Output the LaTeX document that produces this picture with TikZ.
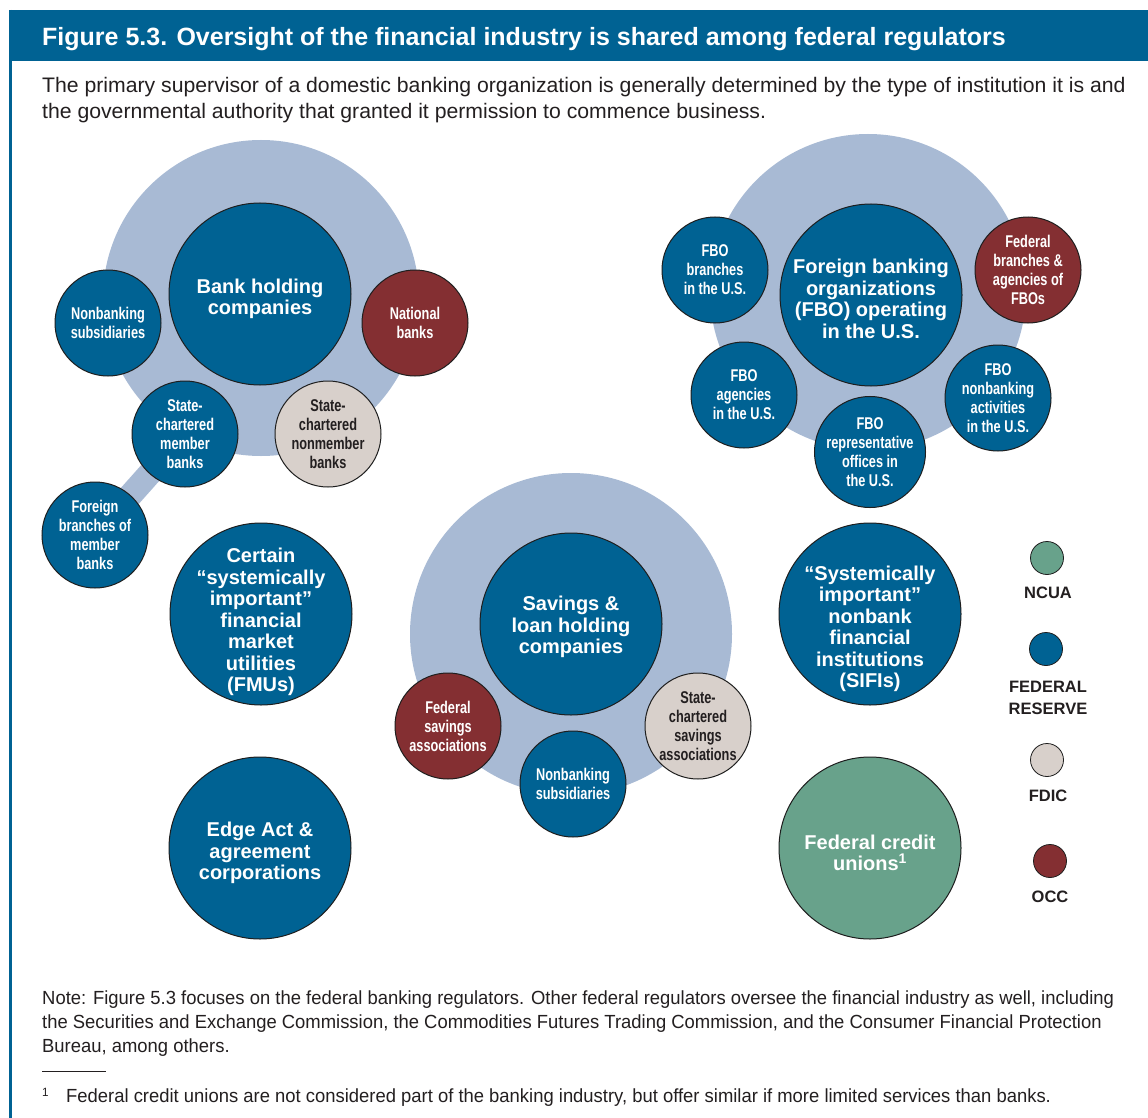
\documentclass[tikz,border=0pt]{standalone}
\usepackage{fontspec}
\setmainfont{Liberation Sans}
\newfontfamily\condf{Liberation Sans}[FakeStretch=0.75]
\newfontfamily\bodyf{Liberation Sans}[FakeStretch=1.01]
\newfontfamily\notef{Liberation Sans}[FakeStretch=0.97]
\newfontfamily\titlef{Liberation Sans}[FakeStretch=1.0]
\definecolor{fedblue}{RGB}{0,98,147}
\definecolor{halocol}{RGB}{168,186,212}
\definecolor{occred}{RGB}{132,47,50}
\definecolor{fdiccol}{RGB}{216,208,203}
\definecolor{ncuacol}{RGB}{104,162,139}
\definecolor{txtgray}{RGB}{35,31,32}
\definecolor{outl}{RGB}{30,30,30}
\tikzset{
  halo/.style={circle, fill=halocol, inner sep=0pt},
  bigc/.style={circle, draw=outl, line width=1pt, fill=fedblue, minimum size=182pt, inner sep=0pt},
  bigt/.style={inner sep=0pt, text=white, align=center, font=\bfseries\fontsize{20}{21.5}\selectfont},
  smallc/.style={circle, draw=outl, line width=1pt, fill=fedblue, minimum size=106pt, inner sep=0pt,
    text=white, align=center, font=\condf\bfseries\fontsize{17}{19}\selectfont},
  legc/.style={circle, draw=outl, line width=0.8pt, minimum size=33pt, inner sep=0pt},
  legt/.style={text=txtgray, align=center, inner sep=0pt, font=\bfseries\fontsize{16.5}{22}\selectfont},
  bodyt/.style={anchor=base west, inner sep=0pt, text=txtgray, font=\bodyf\fontsize{21}{26}\selectfont},
  notet/.style={anchor=base west, inner sep=0pt, text=txtgray, font=\notef\fontsize{19}{24}\selectfont},
}
\begin{document}
\begin{tikzpicture}[x=1pt,y=-1pt]
\useasboundingbox (0,0) rectangle (1148,1118);
\fill[white] (0,0) rectangle (1148,1118);
% title bar and frame
\fill[fedblue] (9,10) rectangle (1148,61);
\draw[fedblue, line width=2.5pt] (10.5,10) -- (10.5,1118);
\node[anchor=base west, inner sep=0pt, text=white, font=\titlef\bfseries\fontsize{25}{30}\selectfont] (title) at (42,46)
  {Figure 5.3. Oversight of the financial industry is shared among federal regulators};
\node[bodyt] (sub1) at (42,93) {The primary supervisor of a domestic banking organization is generally determined by the type of institution it is and};
\node[bodyt] (sub2) at (42,119) {the governmental authority that granted it permission to commence business.};

% halos
\node[halo, minimum size=316pt] (bhcHalo) at (261,298) {};
\node[halo, minimum size=316pt] (fboHalo) at (868,292) {};
\node[halo, minimum size=322pt] (slHalo) at (571,634) {};
\coordinate (smbC) at (185,434);
\coordinate (fbmC) at (95,535);
\draw[halocol, line width=24pt] (smbC) -- (fbmC);

% bank holding group
\node[bigc] (bhc) at (260,294) {};
\node[bigt] (bhcT) at ([yshift=-5pt]bhc.center) {Bank holding\\companies};
\node[smallc] (nbs1) at (108,323) {Nonbanking\\subsidiaries};
\node[smallc, fill=occred] (natb) at (415,323) {National\\banks};
\node[smallc] (smb) at (smbC) {State-\\chartered\\member\\banks};
\node[smallc, fill=fdiccol, text=txtgray] (snmb) at (328,434) {State-\\chartered\\nonmember\\banks};
\node[smallc] (fbm) at (fbmC) {Foreign\\branches of\\member\\banks};

% FBO group
\node[bigc] (fbo) at (871,295) {};
\node[bigt] (fboT) at ([yshift=-4pt]fbo.center) {Foreign banking\\organizations\\(FBO) operating\\in the U.S.};
\node[smallc] (fbob) at (715,270) {FBO\\branches\\in the U.S.};
\node[smallc, fill=occred] (fedba) at (1028,270) {Federal\\branches \&\\agencies of\\FBOs};
\node[smallc] (fboa) at (744,395) {FBO\\agencies\\in the U.S.};
\node[smallc] (fbor) at (870,452) {FBO\\representative\\offices in\\the U.S.};
\node[smallc] (fbon) at (998,398) {FBO\\nonbanking\\activities\\in the U.S.};

% S&L group
\node[bigc] (slhc) at (571,624) {};
\node[bigt] (slhcT) at ([yshift=-3pt]slhc.center) {Savings \&\\loan holding\\companies};
\node[smallc, fill=occred] (fsa) at (448,726) {Federal\\savings\\associations};
\node[smallc] (nbs2) at (573,784) {Nonbanking\\subsidiaries};
\node[smallc, fill=fdiccol, text=txtgray] (scsa) at (698,726) {State-\\chartered\\savings\\associations};

% standalone
\node[bigc] (fmu) at (261,614) {};
\node[bigt] (fmuT) at ([yshift=-8pt]fmu.center) {Certain\\“systemically\\important”\\financial\\market\\utilities\\(FMUs)};
\node[bigc] (edge) at (260,848) {};
\node[bigt] (edgeT) at ([yshift=-5pt]edge.center) {Edge Act \&\\agreement\\corporations};
\node[bigc] (sifi) at (870,614) {};
\node[bigt] (sifiT) at ([yshift=-15pt]sifi.center) {“Systemically\\important”\\nonbank\\financial\\institutions\\(SIFIs)};
\node[bigc, fill=ncuacol] (fcu) at (870,848) {};
\node[bigt] (fcuT) at ([yshift=-5pt]fcu.center) {Federal credit\\unions\textsuperscript{1}};

% legend
\node[legc, fill=ncuacol] (lg1) at (1047,558) {};
\node[legt] (lt1) at (1048,593) {NCUA};
\node[legc, fill=fedblue] (lg2) at (1046,649) {};
\node[legt] (lt2) at (1048,698) {FEDERAL\\RESERVE};
\node[legc, fill=fdiccol] (lg3) at (1047,760) {};
\node[legt] (lt3) at (1048,796) {FDIC};
\node[legc, fill=occred] (lg4) at (1050,861) {};
\node[legt] (lt4) at (1050,897) {OCC};

% notes
\node[notet] (n1) at (42,1004) {Note: Figure 5.3 focuses on the federal banking regulators. Other federal regulators oversee the financial industry as well, including};
\node[notet] (n2) at (42,1028) {the Securities and Exchange Commission, the Commodities Futures Trading Commission, and the Consumer Financial Protection};
\node[notet] (n3) at (42,1052) {Bureau, among others.};
\draw[txtgray, line width=1pt] (42,1071) -- (106,1071);
\node[notet, font=\notef\fontsize{12}{12}\selectfont] (fnm) at (42,1096) {1};
\node[notet] (fn) at (66,1102) {Federal credit unions are not considered part of the banking industry, but offer similar if more limited services than banks.};
\end{tikzpicture}
\end{document}
